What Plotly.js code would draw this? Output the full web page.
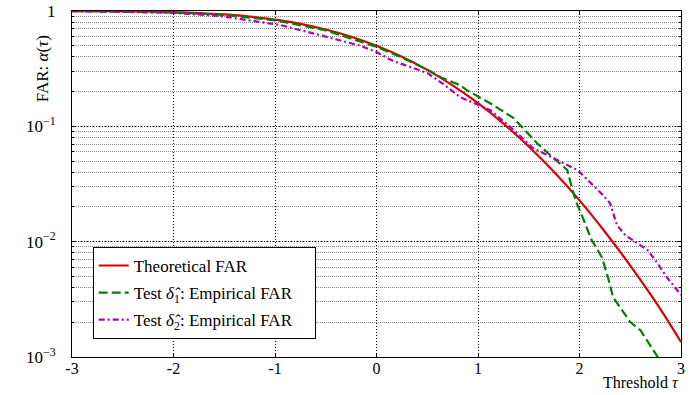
<!DOCTYPE html>
<html>
<head>
<meta charset="utf-8">
<script src="https://cdn.plot.ly/plotly-3.0.1.min.js"></script>
<style>body{margin:0;padding:0;background:#fff}#plot{width:696px;height:395px}</style>
</head>
<body>
<div id="plot"></div>
<script>
// Theoretical FAR
const tauTheory = [-3,-2.75,-2.5,-2.25,-2,-1.75,-1.5,-1.25,-1,-0.75,-0.5,-0.25,0,0.25,0.5,0.75,1,1.25,1.5,1.75,2,2.25,2.5,2.75,3];
const farTheory = [0.9987,0.9970,0.9938,0.9878,0.9772,0.9599,0.9332,0.8944,0.8413,0.7734,0.6915,0.5987,0.5,0.4013,0.3085,0.2266,0.1587,0.1056,0.0668,0.0401,0.0228,0.0122,0.0062,0.0030,0.00135];

// Test delta1 empirical FAR
const tauTest1 = [-3,-2.5,-2,-1.5,-1,-0.5,0,0.25,0.5,0.65,0.82,0.89,1.15,1.35,1.48,1.58,1.71,1.84,1.88,1.91,1.96,2.03,2.12,2.22,2.28,2.33,2.37,2.50,2.60,2.68,2.72,2.77,2.80];
const farTest1 = [0.998,0.990,0.972,0.925,0.83,0.68,0.49,0.395,0.31,0.262,0.228,0.206,0.153,0.118,0.0893,0.0716,0.0564,0.0443,0.0418,0.0329,0.0230,0.0163,0.0103,0.00735,0.00493,0.00331,0.00294,0.00201,0.00171,0.00132,0.00115,0.00100,0.00085];

// Test delta2 empirical FAR
const tauTest2 = [-3,-2.5,-2.03,-1.54,-0.95,-0.56,-0.16,0,0.16,0.5,0.66,0.82,1.12,1.32,1.54,1.78,1.98,2.13,2.23,2.30,2.33,2.37,2.45,2.55,2.67,2.76,2.86,3.0];
const farTest2 = [0.997,0.985,0.967,0.905,0.756,0.619,0.50,0.44,0.37,0.29,0.232,0.18,0.138,0.0986,0.0649,0.051,0.0418,0.031,0.0254,0.0216,0.0177,0.0139,0.0114,0.0099,0.00846,0.00665,0.00493,0.00344];

const xTicks = [-3,-2,-1,0,1,2,3];
const xTickText = ['-3','-2','-1','0','1','2','3'];
const yTicks = [0.001,0.01,0.1,1];
const yTickText = ['10<sup>−3</sup>','10<sup>−2</sup>','10<sup>−1</sup>','1'];
const seriesNames = [
  'Theoretical FAR',
  'Test <i>δ̂</i><sub>1</sub>: Empirical FAR\u00a0\u00a0\u00a0\u00a0',
  'Test <i>δ̂</i><sub>2</sub>: Empirical FAR\u00a0\u00a0\u00a0\u00a0'
];

const serif = 'Liberation Serif, Times New Roman, serif';

const traces = [
  {x: tauTheory, y: farTheory, type:'scatter', mode:'lines', name:seriesNames[0], legendgroup:'a',
   line:{color:'#dd0000', width:2.2, shape:'spline'}},
  {x: tauTest1, y: farTest1, type:'scatter', mode:'lines', name:seriesNames[1], legendgroup:'b',
   line:{color:'#008000', width:2.2, dash:'9px,4px'}},
  {x: tauTest2, y: farTest2, type:'scatter', mode:'lines', name:seriesNames[2], legendgroup:'c',
   line:{color:'#b000b0', width:2.2, dash:'6px,3px,2px,3px'}}
];

const layout = {
  width:696, height:395,
  margin:{l:72, r:15, t:11, b:38},
  paper_bgcolor:'#fff', plot_bgcolor:'#fff',
  font:{family:serif, size:16, color:'#000'},
  showlegend:true,
  legend:{x:0.034, y:0.318, xanchor:'left', yanchor:'top', bgcolor:'#fff',
    bordercolor:'#000', borderwidth:1, font:{family:serif, size:17}, tracegroupgap:2, itemwidth:30},
  xaxis:{range:[-3,3], tickvals:xTicks, ticktext:xTickText, showline:true, linecolor:'#000', linewidth:1,
    mirror:'allticks', ticks:'inside', ticklen:4, tickcolor:'#000', showgrid:true, gridcolor:'#000',
    griddash:'1px,2px', gridwidth:1, zeroline:false, tickfont:{family:serif, size:16}, ticklabelstandoff:-3},
  yaxis:{type:'log', range:[-3,0], tickvals:yTicks, ticktext:yTickText, showline:true, linecolor:'#000', linewidth:1,
    mirror:'allticks', ticks:'inside', ticklen:4, tickcolor:'#000', showgrid:true, gridcolor:'#000',
    griddash:'1px,2px', gridwidth:1, zeroline:false, tickfont:{family:serif, size:17}, ticklabelstandoff:12,
    minor:{dtick:'D1', showgrid:true, gridcolor:'#888', griddash:'1px,1px', gridwidth:1, ticks:'inside', ticklen:2, tickcolor:'#000'}},
  annotations:[
    {text:'FAR: <i>α</i>(<i>τ</i>)', xref:'paper', yref:'paper', x:-0.049, y:0.832, xanchor:'center', yanchor:'middle',
     textangle:-90, showarrow:false, font:{family:serif, size:17}},
    {text:'Threshold <i>τ</i>', xref:'paper', yref:'paper', x:1.0, y:-0.105, xanchor:'right', yanchor:'bottom',
     showarrow:false, font:{family:serif, size:16}}
  ]
};

Plotly.newPlot('plot', traces, layout, {staticPlot:true, displayModeBar:false});
</script>
</body>
</html>
